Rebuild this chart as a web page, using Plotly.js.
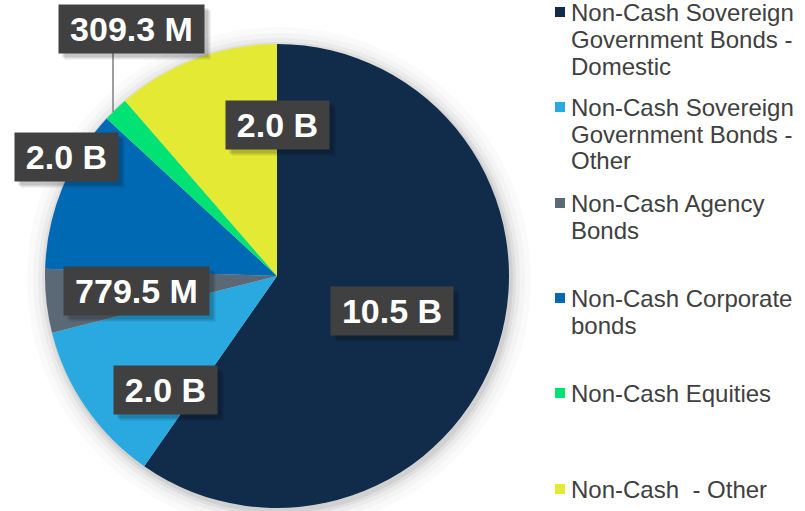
<!DOCTYPE html>
<html><head><meta charset="utf-8">
<script src="https://cdn.plot.ly/plotly-3.0.1.min.js"></script>
<style>html,body{margin:0;padding:0;background:#fff;} #chart{width:805px;height:511px;}</style>
</head><body><div id="chart"></div>
<script>
// ---- data ----
const categories = [
  "Non-Cash Sovereign Government Bonds - Domestic",
  "Non-Cash Sovereign Government Bonds - Other",
  "Non-Cash Agency Bonds",
  "Non-Cash Corporate bonds",
  "Non-Cash Equities",
  "Non-Cash  - Other"
];
const legendLabels = [
  "Non-Cash Sovereign<br>Government Bonds -<br>Domestic",
  "Non-Cash Sovereign<br>Government Bonds -<br>Other",
  "Non-Cash Agency<br>Bonds",
  "Non-Cash Corporate<br>bonds",
  "Non-Cash Equities",
  "Non-Cash \u00a0- Other"
];
const values = [10.5e9, 2.0e9, 779.5e6, 2.0e9, 309.3e6, 2.0e9];
const colors = ["#112B4A", "#29A9E0", "#5A6975", "#0069B4", "#00E274", "#E4E934"];

// ---- layout helpers (pixel -> paper) ----
const W = 805, H = 511;
const px = x => x / W;
const py = y => 1 - y / H;
const fmt = v => v >= 1e9 ? (v / 1e9).toFixed(1) + " B" : (v / 1e6).toFixed(1) + " M";

const pieC = [277, 276], pieR = 232;
const labelPos = [[392, 311], [165, 390], [136, 291], [66, 157], [131, 29], [277, 125]];
const legendY = [12, 107, 203, 298, 393, 489];
const FONT = '"Liberation Sans", Arial, sans-serif';

const ctx = document.createElement("canvas").getContext("2d");
ctx.font = 'bold 34px "Liberation Sans", Arial';

const shapes = [];
const annotations = [];

// soft halo behind pie
[[20, 0.018], [14, 0.025], [9, 0.035], [5, 0.05], [2, 0.06]].forEach(([d, o]) => {
  shapes.push({type: "circle", xref: "paper", yref: "paper", layer: "below",
    x0: px(pieC[0] - pieR - d + 2), x1: px(pieC[0] + pieR + d + 2),
    y0: py(pieC[1] + pieR + d + 3), y1: py(pieC[1] - pieR - d + 3),
    fillcolor: "rgba(0,0,0," + o + ")", line: {width: 0}});
});

// leader line for the small slice label
shapes.push({type: "line", xref: "paper", yref: "paper", x0: px(113), x1: px(113),
  y0: py(53), y1: py(112), line: {color: "#7F7F7F", width: 1.5}, layer: "above"});

// data labels with shadow
values.forEach((v, i) => {
  const t = fmt(v);
  const w = Math.round(ctx.measureText(t).width + 22);
  const [cx, cy] = labelPos[i];
  [[6, 0.10], [4, 0.14]].forEach(([s, o]) => {
    annotations.push({xref: "paper", yref: "paper", x: px(cx), y: py(cy), xshift: s, yshift: -s,
      showarrow: false, text: " ", width: w, height: 48, borderpad: 0,
      bgcolor: "rgba(0,0,0," + o + ")", xanchor: "center", yanchor: "middle"});
  });
  annotations.push({xref: "paper", yref: "paper", x: px(cx), y: py(cy), showarrow: false,
    text: t, width: w, height: 48, borderpad: 0, bgcolor: "#404040",
    xanchor: "center", yanchor: "middle", align: "center",
    font: {family: FONT, size: 34, color: "#FFFFFF", weight: "bold"}});
});

// legend (squares + text lines)
legendLabels.forEach((name, i) => {
  const y0 = legendY[i];
  shapes.push({type: "rect", xref: "paper", yref: "paper",
    x0: px(555), x1: px(565), y0: py(y0 + 5), y1: py(y0 - 5),
    fillcolor: colors[i], line: {width: 0}});
  name.split("<br>").forEach((line, k) => {
    annotations.push({xref: "paper", yref: "paper", x: px(569), y: py(y0 + k * 27),
      showarrow: false, text: line, xanchor: "left", yanchor: "middle", align: "left",
      font: {family: FONT, size: 24, color: "#404040"}});
  });
});

const trace = {
  type: "pie", labels: categories, values: values,
  marker: {colors: colors, line: {width: 0}},
  sort: false, direction: "clockwise", rotation: 0,
  textinfo: "none", showlegend: false, hoverinfo: "label+value",
  domain: {x: [px(pieC[0] - pieR), px(pieC[0] + pieR)], y: [py(pieC[1] + pieR), py(pieC[1] - pieR)]}
};

Plotly.newPlot("chart", [trace], {
  width: W, height: H, margin: {l: 0, r: 0, t: 0, b: 0},
  paper_bgcolor: "#FFFFFF", plot_bgcolor: "#FFFFFF", showlegend: false,
  shapes: shapes, annotations: annotations
}, {displayModeBar: false, staticPlot: true});
</script>
</body></html>
